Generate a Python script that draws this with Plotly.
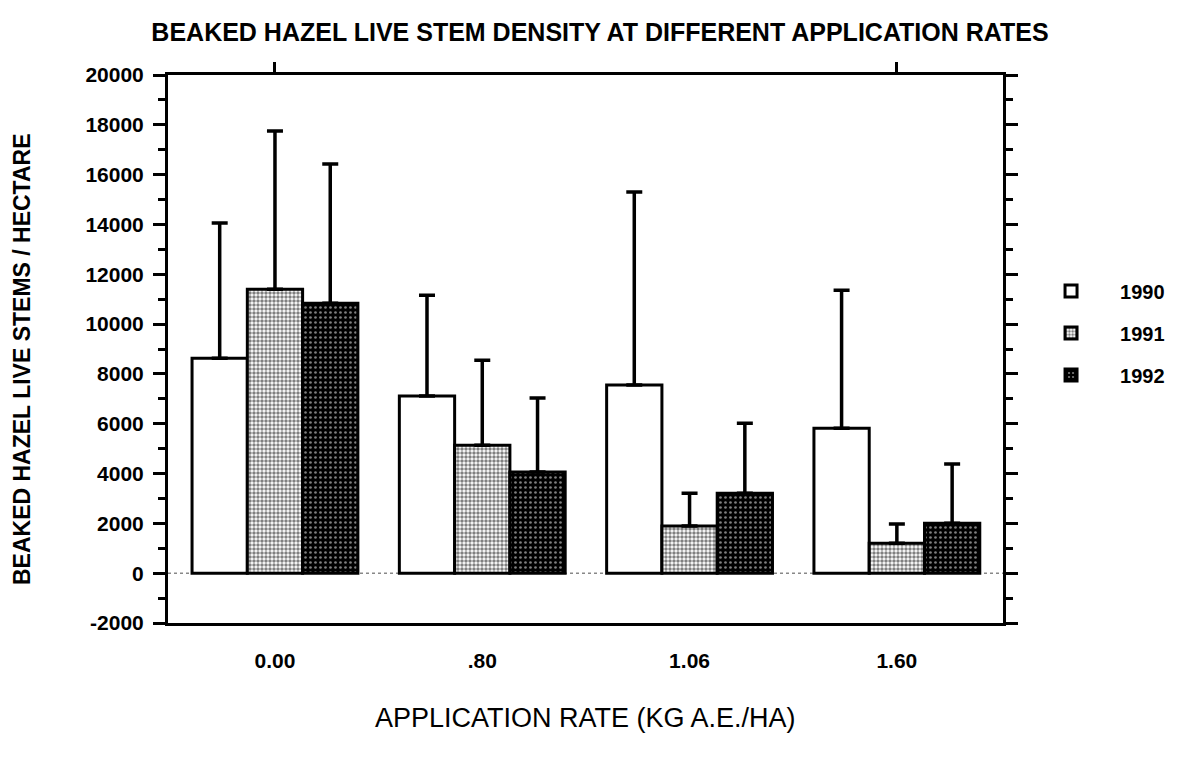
import plotly.graph_objects as go

rates = ["0.00", ".80", "1.06", "1.60"]
years = ["1990", "1991", "1992"]
means = {
    "1990": [8630, 7110, 7550, 5820],
    "1991": [11400, 5140, 1890, 1200],
    "1992": [10840, 4060, 3210, 2000],
}
upper = {
    "1990": [14060, 11160, 15300, 11360],
    "1991": [17750, 8550, 3210, 1970],
    "1992": [16430, 7030, 6020, 4380],
}
yticks = [-2000, 0, 2000, 4000, 6000, 8000, 10000, 12000, 14000, 16000, 18000, 20000]
ytick_text = ["-2000", "0", "2000", "4000", "6000", "8000", "10000", "12000",
              "14000", "16000", "18000", "20000"]

patterns = {
    "1990": dict(shape="", bgcolor="white"),
    "1991": dict(shape=".", fgcolor="black", bgcolor="white", size=4, solidity=0.6),
    "1992": dict(shape=".", fgcolor="white", bgcolor="black", size=5, solidity=0.22),
}

FONT = "Liberation Sans, Arial, sans-serif"

# page body has an 8px margin in the browser; compensate
W, H = 1175, 750
L, T = 160, 67
PW, PH = 835, 548

fig = go.Figure()
for yr in years:
    errs = [u - m for u, m in zip(upper[yr], means[yr])]
    fig.add_trace(go.Bar(
        x=rates, y=means[yr], name=yr, legendgroup=yr,
        marker=dict(color="white", line=dict(color="black", width=3),
                    pattern=patterns[yr]),
        error_y=dict(type="data", array=errs, symmetric=False,
                     arrayminus=[0] * len(errs), color="black",
                     thickness=3.5, width=8),
    ))

fig.add_hline(y=0, line=dict(color="#888888", width=1.5, dash="dot"), layer="below")

fig.add_trace(go.Scatter(x=[0], y=[0], xaxis="x2", mode="markers",
                         marker=dict(opacity=0), showlegend=False, hoverinfo="skip"))

fig.update_layout(
    width=W, height=H,
    margin=dict(l=L, r=W - L - PW, t=T, b=H - T - PH, autoexpand=False),
    paper_bgcolor="white", plot_bgcolor="white",
    barmode="group", bargap=0.2, bargroupgap=0,
    font=dict(family=FONT, color="black"),
    title=dict(text="BEAKED HAZEL LIVE STEM DENSITY AT DIFFERENT APPLICATION RATES",
               x=592 / W, xanchor="center", y=1 - 24 / H, yanchor="middle",
               yref="container", xref="container",
               font=dict(size=25, family=FONT, color="black", weight="bold")),
    xaxis=dict(
        type="category", range=[-0.516, 3.512], automargin=False,
        showline=True, linecolor="black", linewidth=3, mirror=True,
        ticks="outside", ticklen=17, tickcolor="rgba(0,0,0,0)",
        tickfont=dict(size=21, family=FONT, weight="bold"),
        showgrid=False, zeroline=False,
    ),
    xaxis2=dict(
        overlaying="x", side="top", range=[-0.516, 3.512], automargin=False,
        tickvals=[0, 3], ticktext=["", ""], ticks="outside", ticklen=12,
        tickwidth=3, tickcolor="black", showgrid=False, zeroline=False,
        showline=False,
    ),
    yaxis=dict(
        range=[-2000, 20000], tickvals=yticks, ticktext=ytick_text, automargin=False,
        showline=True, linecolor="black", linewidth=3, mirror="ticks",
        ticks="outside", ticklen=12, tickwidth=3, tickcolor="black",
        minor=dict(dtick=1000, ticks="outside", ticklen=7, tickwidth=3, tickcolor="black"),
        ticklabelstandoff=5,
        tickfont=dict(size=21, family=FONT, weight="bold"),
        showgrid=False, zeroline=False,
    ),
    legend=dict(
        x=1.0228, xanchor="left", y=(623 - 333) / 548, yanchor="middle",
        font=dict(size=20, family=FONT, weight="bold"),
        tracegroupgap=13, itemwidth=88, bgcolor="rgba(0,0,0,0)",
    ),
    showlegend=True,
    annotations=[
        dict(text="BEAKED HAZEL LIVE STEMS / HECTARE", xref="paper", yref="paper",
             x=(22 - 168) / PW, y=(623 - 359) / PH, xanchor="center", yanchor="middle",
             textangle=-90, showarrow=False,
             font=dict(size=23, family=FONT, color="black", weight="bold")),
        dict(text="APPLICATION RATE (KG A.E./HA)", xref="paper", yref="paper",
             x=(585 - 168) / PW, y=(623 - 718) / PH, xanchor="center", yanchor="middle",
             showarrow=False,
             font=dict(size=27, family=FONT, color="black")),
    ],
)

fig.write_html("out.html")
